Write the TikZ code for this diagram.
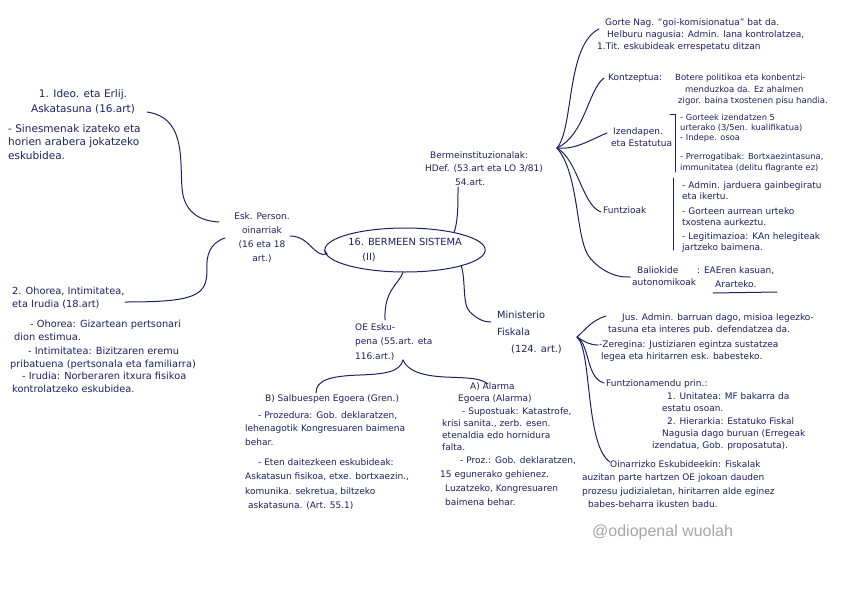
\documentclass[tikz,border=0pt]{standalone}
\usepackage{fontspec}
\usetikzlibrary{shapes.geometric}
\newfontfamily\handfont{DejaVu Sans}
\newfontfamily\markfont{Liberation Sans}
\definecolor{ink}{RGB}{30,32,100}
\definecolor{marca}{RGB}{165,165,170}
\tikzset{
  txt/.style={anchor=north west, align=left, inner sep=0pt, text=ink,
    font=\handfont\fontsize{9}{#1}\selectfont},
  txt/.default=12,
  big/.style={anchor=north west, align=left, inner sep=0pt, text=ink,
    font=\handfont\fontsize{10.5}{#1}\selectfont},
  big/.default=13.5,
  mid/.style={anchor=north west, align=left, inner sep=0pt, text=ink,
    font=\handfont\fontsize{9.8}{#1}\selectfont},
  mid/.default=13,
  lot/.style={draw=ink, line width=1pt, line cap=round},
}
\begin{document}
\begin{tikzpicture}[x=1pt, y=-1pt]
\useasboundingbox[fill=white] (0,0) rectangle (848,605);

% Erdiko gaia
\node[ellipse, draw=ink, line width=1pt, minimum width=145pt, minimum height=44pt,
  inner sep=0pt, text=ink, align=left, font=\handfont\fontsize{9.8}{15}\selectfont]
  (bermeak) at (405,250) {16. BERMEEN SISTEMA\\\hspace*{14pt}(II)};

% Ezkerreko adarra
\node[big=15, anchor=north, align=center] (ideo) at (83,89) {1. Ideo. eta Erlij.\\Askatasuna (16.art)};
\node[big] (sines) at (8,124) {- Sinesmenak izateko eta\\horien arabera jokatzeko\\eskubidea.};
\node[txt=14, anchor=north, align=center] (esk) at (262,212) {Esk. Person.\\oinarriak\\(16 eta 18\\art.)};
\node[mid=13] (ohorea) at (12,287) {2. Ohorea, Intimitatea,\\eta Irudia (18.art)};
\node[mid] (ohdef) at (14,320) {\hspace*{16pt}- Ohorea: Gizartean pertsonari\\dion estimua.};
\node[mid] (intim) at (10,347) {\hspace*{18pt}- Intimitatea: Bizitzaren eremu\\pribatuena (pertsonala eta familiarra)};
\node[mid] (irudia) at (12,372) {\hspace*{10pt}- Irudia: Norberaren itxura fisikoa\\kontrolatzeko eskubidea.};

\coordinate (ideoE) at (147,112);
\coordinate (ohoreaE) at (125,302);
\coordinate (eskA) at (219,222);
\coordinate (eskB) at (225,238);
\coordinate (eskC) at (290,236);
\draw[lot] (ideoE) .. controls (190,118) and (178,170) .. (183,195) .. controls (187,213) and (200,221) .. (eskA);
\draw[lot] (eskB) .. controls (210,243) and (206,255) .. (207,270) .. controls (207,296) and (195,302) .. (ohoreaE);
\draw[lot] (eskC) .. controls (310,236) and (314,258) .. (327,254) -- (bermeak.west);

% Berme instituzionalak
\node[txt=13.5] (inst) at (425,151) {\hspace*{5pt}Bermeinstituzionalak:\\HDef. (53.art eta LO 3/81)\\\hspace*{30pt}54.art.};
\coordinate (instS) at (458,187);
\coordinate (fanB) at (557,148);
\draw[lot] (bermeak.20) .. controls (458,222) and (458,205) .. (instS);

\node[txt] (gorte) at (597,18) {\hspace*{8pt}Gorte Nag. “goi-komisionatua” bat da.\\\hspace*{10pt}Helburu nagusia: Admin. lana kontrolatzea,\\1.Tit. eskubideak errespetatu ditzan};
\node[txt] (kontz) at (608,74) {Kontzeptua:};
\node[txt=11.5, font=\handfont\fontsize{8.5}{11.5}\selectfont] (kontzdef) at (675,74) {Botere politikoa eta konbentzi-\\\hspace*{10pt}menduzkoa da. Ez ahalmen\\\hspace*{3pt}zigor. baina txostenen pisu handia.};
\node[txt] (izend) at (611,127) {\hspace*{2pt}Izendapen.\\eta Estatutua};
\node[txt=10, font=\handfont\fontsize{8.3}{10}\selectfont] (izendA) at (680,114) {- Gorteek izendatzen 5\\urterako (3/5en. kualifikatua)\\- Indepe. osoa};
\node[txt=11, font=\handfont\fontsize{8.3}{11}\selectfont] (izendB) at (680,153) {- Prerrogatibak: Bortxaezintasuna,\\immunitatea (delitu flagrante ez)};
\draw[lot] (670,114) -- (675,114) -- (675,172);
\node[txt] (funtz) at (603,206) {Funtzioak};
\node[txt=11.5] (funtzA) at (682,181) {- Admin. jarduera gainbegiratu\\eta ikertu.};
\node[txt=11.5] (funtzB) at (682,207) {- Gorteen aurrean urteko\\txostena aurkeztu.};
\node[txt=11.5] (funtzC) at (682,232) {- Legitimazioa: KAn helegiteak\\jartzeko baimena.};
\draw[lot] (673,178) -- (673,250);
\node[txt] (balio) at (632,266) {\hspace*{5pt}Baliokide\\autonomikoak};
\node[txt=14] (ararteko) at (697,266) {: EAEren kasuan,\\\hspace*{18pt}Ararteko.};
\draw[lot] (713,293) -- (777,292);

\coordinate (gorteW) at (599,29);
\coordinate (kontzW) at (604,78);
\coordinate (izendW) at (607,133);
\coordinate (funtzW) at (601,212);
\coordinate (balioW) at (630,277);
\draw[lot] (fanB) .. controls (574,128) and (566,45) .. (gorteW);
\draw[lot] (fanB) .. controls (585,135) and (588,90) .. (kontzW);
\draw[lot] (fanB) .. controls (575,150) and (590,140) .. (izendW);
\draw[lot] (fanB) .. controls (578,160) and (582,205) .. (funtzW);
\draw[lot] (fanB) .. controls (580,175) and (575,240) .. (590,258) .. controls (600,270) and (615,278) .. (balioW);

% Ministerio Fiskala
\node[mid=17] (mf) at (497,311) {Ministerio\\Fiskala\\\hspace*{14pt}(124. art.)};
\coordinate (mfW) at (491,322);
\coordinate (fanM) at (577,337);
\draw[lot] (bermeak.-16) .. controls (466,280) and (462,305) .. (470,312) .. controls (478,320) and (485,322) .. (mfW);

\node[txt] (jus) at (608,313) {\hspace*{14pt}Jus. Admin. barruan dago, misioa legezko-\\tasuna eta interes pub. defendatzea da.};
\node[txt] (zereg) at (599,340) {-Zeregina: Justiziaren egintza sustatzea\\\hspace*{2pt}legea eta hiritarren esk. babesteko.};
\node[txt] (funtzio) at (606,379) {Funtzionamendu prin.:};
\node[txt] (unit) at (662,392) {\hspace*{5pt}1. Unitatea: MF bakarra da\\estatu osoan.};
\node[txt] (hier) at (652,417) {\hspace*{15pt}2. Hierarkia: Estatuko Fiskal\\\hspace*{10pt}Nagusia dago buruan (Erregeak\\izendatua, Gob. proposatuta).};
\node[txt=13.5] (oinarri) at (582,460) {\hspace*{28pt}Oinarrizko Eskubideekin: Fiskalak\\auzitan parte hartzen OE jokoan dauden\\prozesu judizialetan, hiritarren alde eginez\\\hspace*{6pt}babes-beharra ikusten badu.};

\coordinate (jusW) at (606,316);
\coordinate (zeregW) at (598,345);
\coordinate (funtzioW) at (604,383);
\coordinate (oinarriW) at (610,462);
\draw[lot] (fanM) .. controls (585,330) and (592,320) .. (jusW);
\draw[lot] (fanM) .. controls (585,342) and (590,345) .. (zeregW);
\draw[lot] (fanM) .. controls (590,345) and (586,378) .. (funtzioW);
\draw[lot] (fanM) .. controls (592,350) and (585,445) .. (oinarriW);

% OE Eskubideen etena
\node[txt=14.5] (oe) at (355,323) {OE Esku-\\pena (55.art. eta\\116.art.)};
\coordinate (oeN) at (385,320);
\coordinate (fork) at (403,360);
\draw[lot] (bermeak.-95) .. controls (398,285) and (384,290) .. (oeN);

\node[txt] (salb) at (265,394) {B) Salbuespen Egoera (Gren.)};
\node[txt=13.5] (bproz) at (245,411) {\hspace*{13pt}- Prozedura: Gob. deklaratzen,\\lehenagotik Kongresuaren baimena\\behar.};
\node[txt=14.5] (beten) at (245,458) {\hspace*{13pt}- Eten daitezkeen eskubideak:\\Askatasun fisikoa, etxe. bortxaezin.,\\komunika. sekretua, biltzeko\\\hspace*{3pt}askatasuna. (Art. 55.1)};

\node[txt=12.5] (alarma) at (458,382) {\hspace*{12pt}A) Alarma\\Egoera (Alarma)};
\node[txt] (asup) at (442,407) {\hspace*{20pt}- Supostuak: Katastrofe,\\krisi sanita., zerb. esen.\\etenaldia edo hornidura\\falta.};
\node[txt=14] (aproz) at (440,456) {\hspace*{20pt}- Proz.: Gob. deklaratzen,\\15 egunerako gehienez.\\\hspace*{5pt}Luzatzeko, Kongresuaren\\\hspace*{5pt}baimena behar.};

\coordinate (salbN) at (316,393);
\coordinate (alarmaN) at (488,384);
\draw[lot] (fork) .. controls (400,372) and (385,374) .. (360,375) .. controls (330,376) and (316,380) .. (salbN);
\draw[lot] (fork) .. controls (408,372) and (425,376) .. (445,377) .. controls (470,378) and (480,378) .. (alarmaN);

% Ur-marka
\node[anchor=west, inner sep=0pt, text=marca, font=\markfont\fontsize{16}{18}\selectfont] (marka) at (592,532) {@odiopenal wuolah};
\end{tikzpicture}
\end{document}
